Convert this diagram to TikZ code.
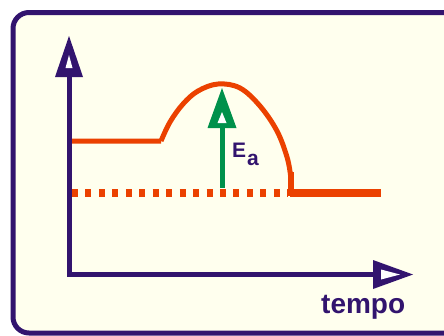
\documentclass[tikz,border=0pt]{standalone}
\usepackage{fontspec}
\setmainfont{Liberation Sans}
\definecolor{purp}{RGB}{50,20,110}
\definecolor{orng}{RGB}{235,65,0}
\definecolor{grn}{RGB}{0,145,75}
\definecolor{bgy}{RGB}{255,255,238}
\tikzset{
  axis/.style={purp, line width=5pt},
  curveline/.style={orng, line width=5pt, line join=round},
  baseline/.style={orng, line width=7.5pt},
  lbl/.style={anchor=base west, inner sep=0pt, text=purp, font=\bfseries\fontsize{#1}{#1}\selectfont},
}
\begin{document}
\begin{tikzpicture}[x=1pt,y=-1pt]
\useasboundingbox (0,0) rectangle (444,335);
\fill[white] (0,0) rectangle (444,335);
\begin{scope}
\clip (0,0) rectangle (444,335);
\draw[purp, line width=5pt, fill=bgy, rounded corners=16pt] (13,12.5) rectangle (480,333);
\end{scope}
% coordinates
\coordinate (ybase) at (69,77);
\coordinate (origin) at (69,274.5);
\coordinate (xbase) at (375,274.5);
\coordinate (start) at (72,141);
\coordinate (rise) at (161,141);
\coordinate (drop) at (291,172);
\coordinate (low) at (291,193);
\coordinate (lowend) at (381,193);
\coordinate (dstart) at (72,193);
\coordinate (dend) at (288,193);
\coordinate (gbot) at (222,188);
\coordinate (gbase) at (222,126);
% orange curve
\draw[curveline] (start) -- (rise) plot[smooth, tension=0.6] coordinates {(161,141) (170,122) (183,104) (198,91) (218,84) (240,88) (260,106) (277,131) (287,157) (290.5,175)};
\draw[orng, line width=6pt] (drop) -- ([yshift=-3pt]low);
\draw[baseline] ([xshift=-1pt]low) -- (lowend);
\draw[baseline, dash pattern=on 6pt off 7.45pt] (dstart) -- (dend);
% green arrow
\draw[grn, line width=5pt] (gbot) -- (gbase);
\fill[grn] (222,88) -- (207.5,128) -- (236.5,128) -- cycle;
\fill[white] (222,112) -- (217.5,123) -- (226.5,123) -- cycle;
% axes
\draw[axis, line join=miter] (ybase) -- (origin) -- (xbase);
\fill[purp] (69,36) -- (55,77) -- (83,77) -- cycle;
\fill[white] (69,55) -- (65.5,68) -- (72.5,68) -- cycle;
\fill[purp] (413,274.5) -- (373,260) -- (373,289) -- cycle;
\fill[white] (400,274.5) -- (381,269.5) -- (381,279.5) -- cycle;
% labels
\node[lbl=21] (E) at (232,157) {E};
\node[lbl=21] (a) at (247,165) {a};
\node[lbl=28] (tempo) at (321,313) {tempo};
\end{tikzpicture}
\end{document}
